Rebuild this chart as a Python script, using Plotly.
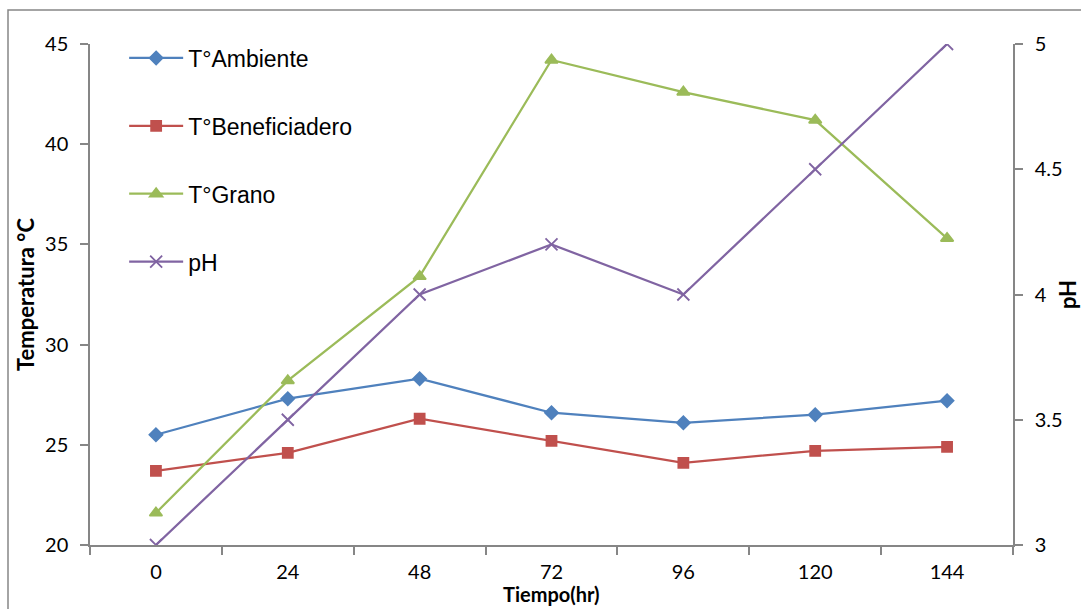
import plotly.graph_objects as go

# Sampling times (hours)
tiempo = ["0", "24", "48", "72", "96", "120", "144"]

# Temperatures (°C)
t_ambiente = [25.5, 27.3, 28.3, 26.6, 26.1, 26.5, 27.2]
t_beneficiadero = [23.7, 24.6, 26.3, 25.2, 24.1, 24.7, 24.9]
t_grano = [21.6, 28.2, 33.4, 44.2, 42.6, 41.2, 35.3]

# pH
ph = [3.0, 3.5, 4.0, 4.2, 4.0, 4.5, 5.0]

AXIS_GRAY = "#868686"
TICK_FONT = dict(family="Lato", size=20, color="#000000")
TITLE_FONT = dict(family="Lato", size=22, color="#000000", weight="bold")

fig = go.Figure()

series = [
    ("T°Ambiente", t_ambiente, "#4F81BD", "diamond", 10, "y"),
    ("T°Beneficiadero", t_beneficiadero, "#C0504D", "square", 10, "y"),
    ("T°Grano", t_grano, "#9BBB59", "triangle-up", 11, "y"),
    ("pH", ph, "#8064A2", "x-thin", 12, "y2"),
]

for name, vals, color, symbol, size, yaxis in series:
    fig.add_trace(go.Scatter(
        x=tiempo, y=vals, name=name, yaxis=yaxis,
        mode="lines+markers", legendgroup=name,
        line=dict(color=color, width=2.25),
        marker=dict(symbol=symbol, size=size, color=color,
                    line=dict(color=color, width=1.8)),
    ))

fig.update_layout(
    width=1081, height=609,
    margin=dict(l=90, r=68, t=44, b=64, autoexpand=False),
    paper_bgcolor="white", plot_bgcolor="white",
    showlegend=True,
    legend=dict(
        x=0.037, y=1.015, xanchor="left", yanchor="top",
        bgcolor="rgba(0,0,0,0)",
        font=dict(family="Liberation Sans", size=23, color="#000000"),
        tracegroupgap=35, itemwidth=54,
    ),
    xaxis=dict(
        type="category", range=[-0.5, 6.5], automargin=False,
        showline=True, linecolor=AXIS_GRAY, linewidth=1.5,
        ticks="outside", tickson="boundaries", ticklen=8, tickwidth=1.5,
        tickcolor=AXIS_GRAY, showgrid=False, zeroline=False,
        tickfont=TICK_FONT, ticklabelstandoff=8,
    ),
    yaxis=dict(
        range=[20, 45], dtick=5, automargin=False,
        showline=True, linecolor=AXIS_GRAY, linewidth=1.5,
        ticks="outside", ticklen=8, tickwidth=1.5, tickcolor=AXIS_GRAY,
        showgrid=False, zeroline=False,
        tickfont=TICK_FONT, ticklabelstandoff=8,
        title=dict(text="Temperatura °C", font=TITLE_FONT, standoff=4),
    ),
    yaxis2=dict(
        range=[3, 5], dtick=0.5, overlaying="y", side="right",
        automargin=False,
        showline=True, linecolor=AXIS_GRAY, linewidth=1.5,
        ticks="outside", ticklen=8, tickwidth=1.5, tickcolor=AXIS_GRAY,
        showgrid=False, zeroline=False,
        tickfont=TICK_FONT, ticklabelstandoff=8,
        title=dict(text="pH", font=TITLE_FONT, standoff=6),
    ),
    annotations=[dict(
        text="Tiempo(hr)", xref="paper", yref="paper",
        x=(551 - 90) / 923, y=(545 - 594) / 501,
        xanchor="center", yanchor="middle", showarrow=False,
        font=dict(family="Lato", size=20, color="#000000", weight="bold"),
    )],
    shapes=[dict(
        type="rect", xref="paper", yref="paper",
        x0=(8 - 90) / 923, x1=(1090 - 90) / 923,
        y0=(545 - 620) / 501, y1=(545 - 10) / 501,
        line=dict(color=AXIS_GRAY, width=1.5), layer="below",
    )],
)

fig.write_html("out.html")
